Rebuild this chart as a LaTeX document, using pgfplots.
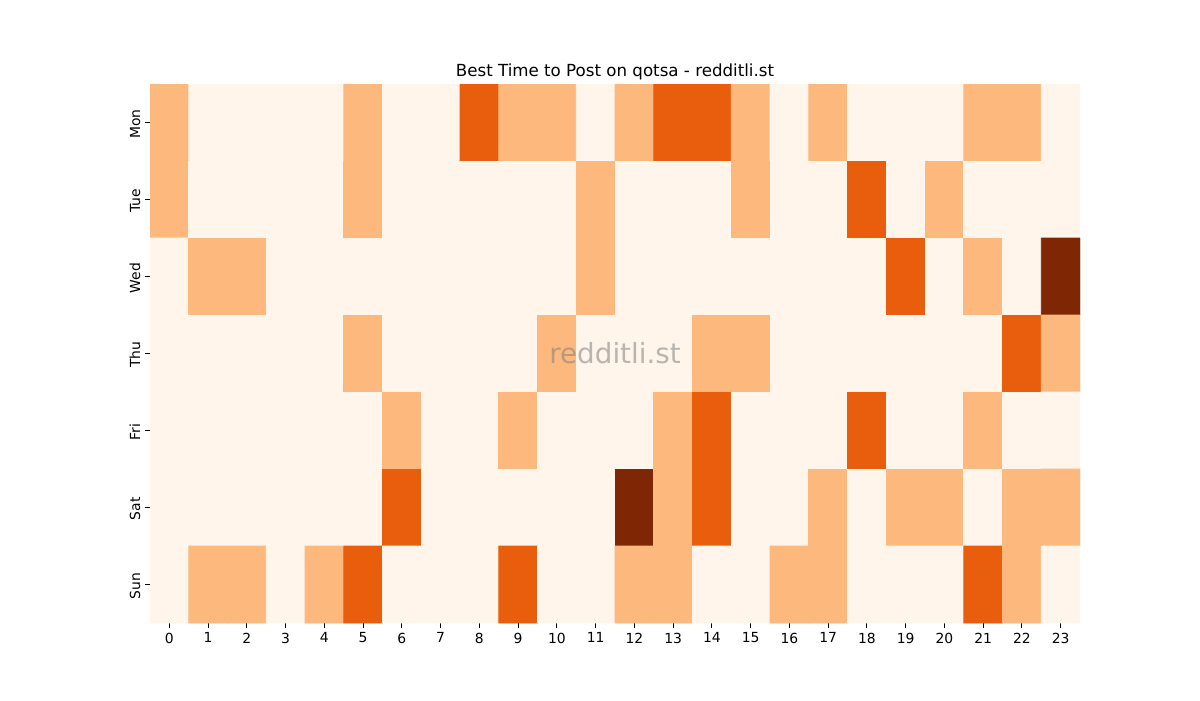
\documentclass[border=0pt]{standalone}
\usepackage{pgfplots}
\pgfplotsset{compat=1.18}
\usepackage{fontspec}
\setmainfont{DejaVu Sans}
\definecolor{wm}{RGB}{128,128,128}
\begin{document}
\begin{tikzpicture}
\path[use as bounding box] (0,0) rectangle (864pt,504pt);
\begin{axis}[
    at={(108pt,55.44pt)}, anchor=south west,
    scale only axis, width=669.6pt, height=388.08pt,
    xmin=-0.5, xmax=23.5, ymin=-0.5, ymax=6.5,
    y dir=reverse, enlargelimits=false,
    xtick={0,...,23}, ytick={0,...,6},
    yticklabels={Mon,Tue,Wed,Thu,Fri,Sat,Sun},
    yticklabel style={rotate=90, anchor=south, xshift=-1pt},
    tick pos=left, tick align=outside,
    major tick length=3.5pt,
    tick style={black, line width=0.8pt},
    axis line style={draw=none},
    ticklabel style={font=\fontsize{10}{12}\selectfont},
    /pgf/number format/assume math mode=true,
    title={Best Time to Post on qotsa - redditli.st},
    title style={font=\fontsize{12}{14}\selectfont, yshift=-6.5pt},
    colormap={oranges}{rgb255=(255,245,235) rgb255=(253,185,125) rgb255=(233,94,13) rgb255=(127,39,4)},
    point meta min=0, point meta max=3,
]
\addplot[matrix plot*, mesh/cols=24, point meta=explicit] table[meta=c] {
x y c
0 0 1
1 0 0
2 0 0
3 0 0
4 0 0
5 0 1
6 0 0
7 0 0
8 0 2
9 0 1
10 0 1
11 0 0
12 0 1
13 0 2
14 0 2
15 0 1
16 0 0
17 0 1
18 0 0
19 0 0
20 0 0
21 0 1
22 0 1
23 0 0
0 1 1
1 1 0
2 1 0
3 1 0
4 1 0
5 1 1
6 1 0
7 1 0
8 1 0
9 1 0
10 1 0
11 1 1
12 1 0
13 1 0
14 1 0
15 1 1
16 1 0
17 1 0
18 1 2
19 1 0
20 1 1
21 1 0
22 1 0
23 1 0
0 2 0
1 2 1
2 2 1
3 2 0
4 2 0
5 2 0
6 2 0
7 2 0
8 2 0
9 2 0
10 2 0
11 2 1
12 2 0
13 2 0
14 2 0
15 2 0
16 2 0
17 2 0
18 2 0
19 2 2
20 2 0
21 2 1
22 2 0
23 2 3
0 3 0
1 3 0
2 3 0
3 3 0
4 3 0
5 3 1
6 3 0
7 3 0
8 3 0
9 3 0
10 3 1
11 3 0
12 3 0
13 3 0
14 3 1
15 3 1
16 3 0
17 3 0
18 3 0
19 3 0
20 3 0
21 3 0
22 3 2
23 3 1
0 4 0
1 4 0
2 4 0
3 4 0
4 4 0
5 4 0
6 4 1
7 4 0
8 4 0
9 4 1
10 4 0
11 4 0
12 4 0
13 4 1
14 4 2
15 4 0
16 4 0
17 4 0
18 4 2
19 4 0
20 4 0
21 4 1
22 4 0
23 4 0
0 5 0
1 5 0
2 5 0
3 5 0
4 5 0
5 5 0
6 5 2
7 5 0
8 5 0
9 5 0
10 5 0
11 5 0
12 5 3
13 5 1
14 5 2
15 5 0
16 5 0
17 5 1
18 5 0
19 5 1
20 5 1
21 5 0
22 5 1
23 5 1
0 6 0
1 6 1
2 6 1
3 6 0
4 6 1
5 6 2
6 6 0
7 6 0
8 6 0
9 6 2
10 6 0
11 6 0
12 6 1
13 6 1
14 6 0
15 6 0
16 6 1
17 6 1
18 6 0
19 6 0
20 6 0
21 6 2
22 6 1
23 6 0
};
\node[text=wm, opacity=0.55, font=\fontsize{20}{24}\selectfont] at (axis cs:11.5,3) {redditli.st};
\end{axis}
\end{tikzpicture}
\end{document}
